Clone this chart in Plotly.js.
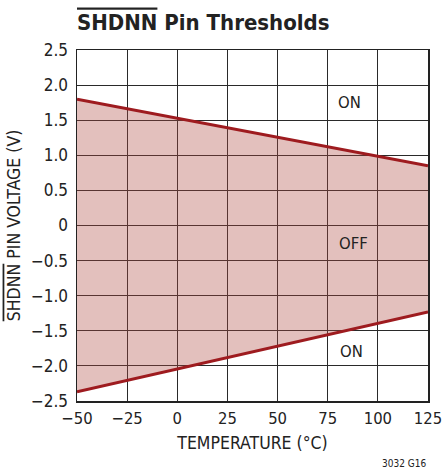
<!DOCTYPE html>
<html>
<head>
<meta charset="utf-8">
<script src="https://cdn.plot.ly/plotly-3.0.1.min.js"></script>
<style>html,body{margin:0;padding:0;background:#fff;}#chart{width:442px;height:471px;}</style>
</head>
<body>
<div id="chart"></div>
<script>
const temperature = [-50, 125];
const upperThreshold = [1.80, 0.85];
const lowerThreshold = [-2.37, -1.23];
const xTickVals = [-50, -25, 0, 25, 50, 75, 100, 125];
const xTickText = ['\u221250', '\u221225', '0', '25', '50', '75', '100', '125'];
const yTickVals = [-2.5, -2.0, -1.5, -1.0, -0.5, 0, 0.5, 1.0, 1.5, 2.0, 2.5];
const yTickText = ['\u22122.5', '\u22122.0', '\u22121.5', '\u22121.0', '\u22120.5', '0', '0.5', '1.0', '1.5', '2.0', '2.5'];

const FONT = 'Liberation Sans Narrow, DejaVu Sans Condensed, Arial Narrow, sans-serif';
const lineColor = '#9e1b1f';

const traces = [
  {x: temperature, y: lowerThreshold, mode: 'lines', line: {color: lineColor, width: 3}, hoverinfo: 'skip'},
  {x: temperature, y: upperThreshold, mode: 'lines', line: {color: lineColor, width: 3},
   fill: 'tonexty', fillcolor: 'rgba(175,75,66,0.35)', hoverinfo: 'skip'}
];

const layout = {
  width: 442, height: 471,
  margin: {l: 77, r: 14, t: 50, b: 70},
  paper_bgcolor: '#fff', plot_bgcolor: '#fff',
  showlegend: false,
  font: {family: FONT, size: 17, color: '#222'},
  title: {
    text: '<b><span style="text-decoration:overline">SHDNN</span> Pin Thresholds</b>',
    font: {family: FONT, size: 22, color: '#222'},
    x: 0, xref: 'paper', xanchor: 'left', y: 0.97, yref: 'container'
  },
  xaxis: {
    range: [-50, 125], tickvals: xTickVals, ticktext: xTickText,
    showgrid: true, gridcolor: '#2a2a2a', gridwidth: 1,
    showline: true, linecolor: '#222', linewidth: 1.5, mirror: true,
    ticks: '', zeroline: false, fixedrange: true, ticklabelstandoff: 2,
    ticklabeloverflow: 'allow',
    tickfont: {family: FONT, size: 16.5, color: '#222'},
    title: {text: 'TEMPERATURE (°C)', font: {family: FONT, size: 17.5, color: '#222'}, standoff: 9}
  },
  yaxis: {
    range: [-2.5, 2.5], tickvals: yTickVals, ticktext: yTickText,
    showgrid: true, gridcolor: '#2a2a2a', gridwidth: 1,
    showline: true, linecolor: '#222', linewidth: 1.5, mirror: true,
    ticks: '', zeroline: false, fixedrange: true, ticklabelstandoff: 4,
    tickfont: {family: FONT, size: 17, color: '#222'},
    title: {text: '<span style="text-decoration:overline">SHDNN</span> PIN VOLTAGE (V)', font: {family: FONT, size: 17.5, color: '#222'}, standoff: 6}
  },
  annotations: [
    {x: 86, y: 1.75, xref: 'x', yref: 'y', text: 'ON', showarrow: false, font: {family: FONT, size: 16.5, color: '#222'}},
    {x: 88, y: -0.26, xref: 'x', yref: 'y', text: 'OFF', showarrow: false, font: {family: FONT, size: 16.5, color: '#222'}},
    {x: 87, y: -1.80, xref: 'x', yref: 'y', text: 'ON', showarrow: false, font: {family: FONT, size: 16.5, color: '#222'}},
    {x: 1, y: 0, xref: 'paper', yref: 'paper', xanchor: 'right', yanchor: 'bottom', yshift: -70, xshift: 0,
     text: '3032 G16', showarrow: false, font: {family: FONT, size: 10, color: '#222'}}
  ]
};

Plotly.newPlot('chart', traces, layout, {displayModeBar: false, staticPlot: true});
</script>
</body>
</html>
